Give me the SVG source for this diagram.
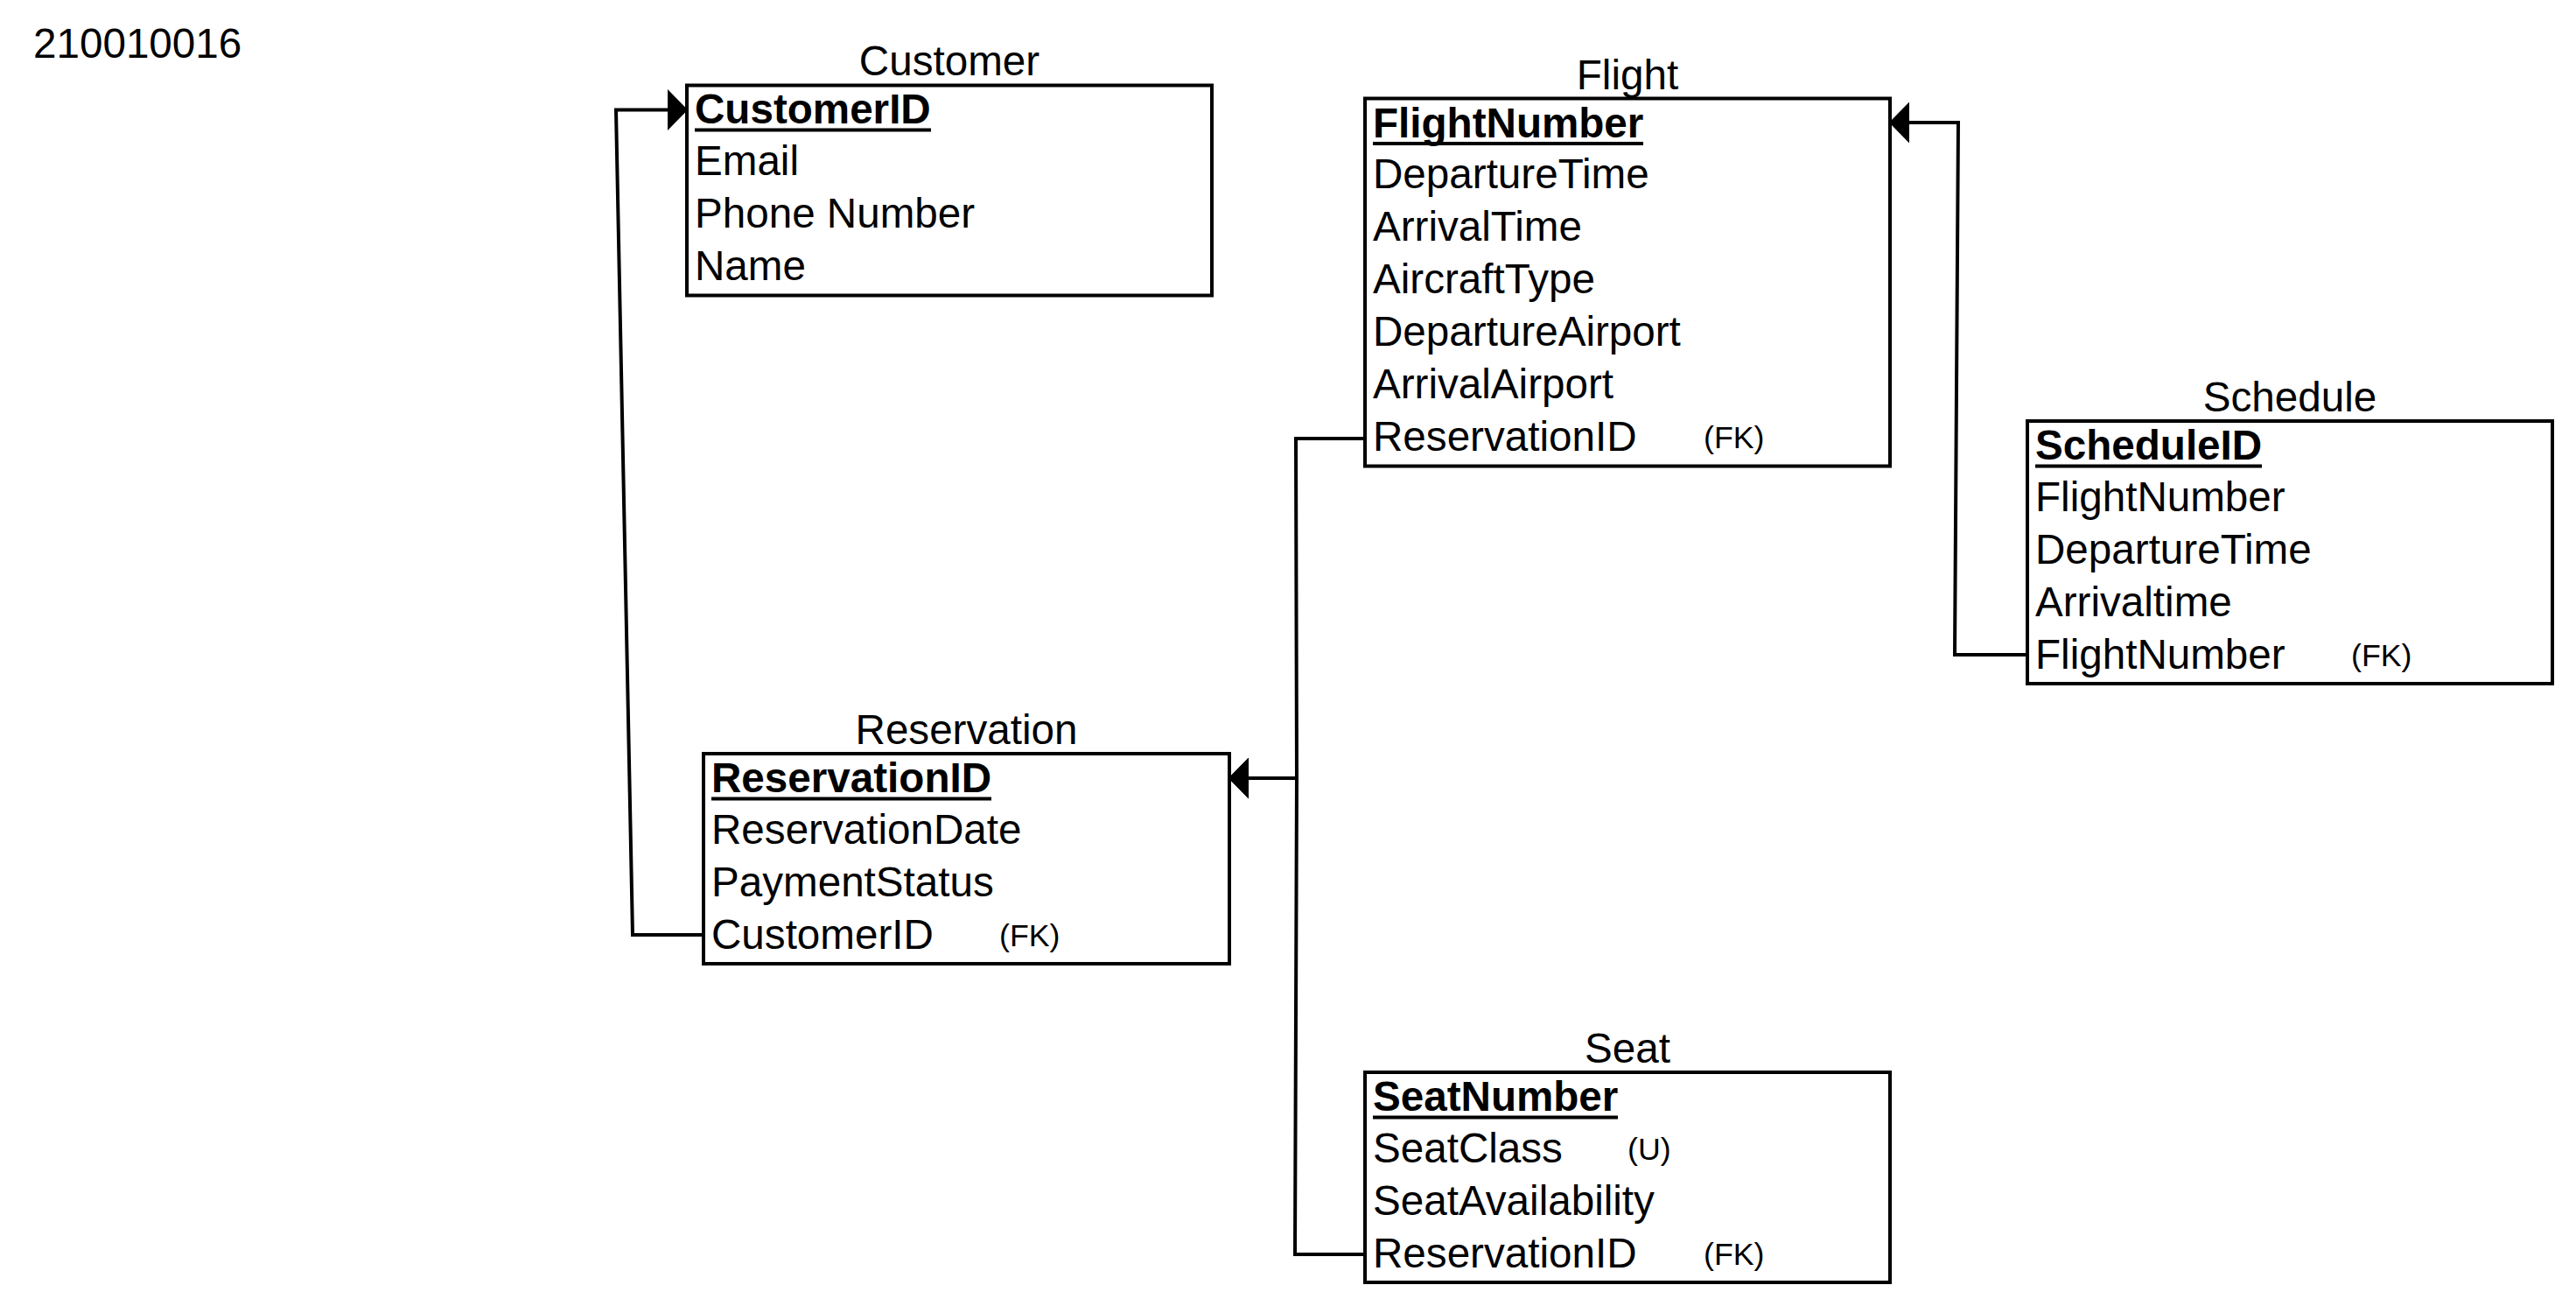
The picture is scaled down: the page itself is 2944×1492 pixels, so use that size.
<svg xmlns="http://www.w3.org/2000/svg" width="2944" height="1492" viewBox="0 0 2944 1492">
<defs>
<style>
text{font-family:"Liberation Sans",Arial,Helvetica,sans-serif;fill:#000}
.t{font-size:47.6px}
.title{font-size:47.6px;text-anchor:middle}
.pk{font-size:47.6px;font-weight:bold}
.sm{font-size:35.7px}
.box{fill:#fff;stroke:#000;stroke-width:4}
.ul{stroke:#000;stroke-width:4}
.edge{fill:none;stroke:#000;stroke-width:4;marker-end:url(#arr)}
</style>
<marker id="arr" markerUnits="userSpaceOnUse" viewBox="0 0 23 47" refX="22" refY="23.5" markerWidth="23" markerHeight="47" orient="auto">
<path d="M0,0 L23,23.5 L0,47 z" fill="#000"/>
</marker>
</defs>
<rect width="2944" height="1492" fill="#fff"/>
<text class="t" x="38" y="66">210010016</text>

<g id="customer">
<text class="title" x="1085" y="86">Customer</text>
<rect class="box" x="785" y="97.5" width="600" height="240"/>
<text class="pk" x="794" y="141">CustomerID</text>
<line class="ul" x1="794" y1="148.5" x2="1064" y2="148.5"/>
<text class="t" x="794" y="199.5">Email</text>
<text class="t" x="794" y="259.5">Phone Number</text>
<text class="t" x="794" y="319.5">Name</text>
</g>

<g id="flight">
<text class="title" x="1860" y="101.5">Flight</text>
<rect class="box" x="1560" y="112.5" width="600" height="420"/>
<text class="pk" x="1569" y="156.5">FlightNumber</text>
<line class="ul" x1="1569" y1="164" x2="1878" y2="164"/>
<text class="t" x="1569" y="215">DepartureTime</text>
<text class="t" x="1569" y="275">ArrivalTime</text>
<text class="t" x="1569" y="335">AircraftType</text>
<text class="t" x="1569" y="395">DepartureAirport</text>
<text class="t" x="1569" y="455">ArrivalAirport</text>
<text class="t" x="1569" y="515">ReservationID</text>
<text class="sm" x="1947" y="512">(FK)</text>
</g>

<g id="schedule">
<text class="title" x="2617" y="470">Schedule</text>
<rect class="box" x="2317" y="481" width="600" height="300"/>
<text class="pk" x="2326" y="525">ScheduleID</text>
<line class="ul" x1="2326" y1="532.5" x2="2585" y2="532.5"/>
<text class="t" x="2326" y="583.5">FlightNumber</text>
<text class="t" x="2326" y="643.5">DepartureTime</text>
<text class="t" x="2326" y="703.5">Arrivaltime</text>
<text class="t" x="2326" y="763.5">FlightNumber</text>
<text class="sm" x="2687" y="761">(FK)</text>
</g>

<g id="reservation">
<text class="title" x="1104.5" y="850">Reservation</text>
<rect class="box" x="804" y="861" width="601" height="240"/>
<text class="pk" x="813" y="905">ReservationID</text>
<line class="ul" x1="813" y1="912.5" x2="1133" y2="912.5"/>
<text class="t" x="813" y="963.5">ReservationDate</text>
<text class="t" x="813" y="1023.5">PaymentStatus</text>
<text class="t" x="813" y="1083.5">CustomerID</text>
<text class="sm" x="1142" y="1081">(FK)</text>
</g>

<g id="seat">
<text class="title" x="1860" y="1214">Seat</text>
<rect class="box" x="1560" y="1225" width="600" height="240"/>
<text class="pk" x="1569" y="1269">SeatNumber</text>
<line class="ul" x1="1569" y1="1276.5" x2="1849" y2="1276.5"/>
<text class="t" x="1569" y="1327.5">SeatClass</text>
<text class="sm" x="1860" y="1325">(U)</text>
<text class="t" x="1569" y="1387.5">SeatAvailability</text>
<text class="t" x="1569" y="1447.5">ReservationID</text>
<text class="sm" x="1947" y="1445">(FK)</text>
</g>

<g id="connectors">
<path class="edge" d="M804,1068 L723,1068 L704,125.5 L785,125.5"/>
<path class="edge" d="M1560,501 L1481,501 L1482,889 L1405,889"/>
<path class="edge" d="M1560,1433 L1480,1433 L1482,889 L1405,889"/>
<path class="edge" d="M2317,748 L2234,748 L2238,140 L2160,140"/>
</g>
</svg>
